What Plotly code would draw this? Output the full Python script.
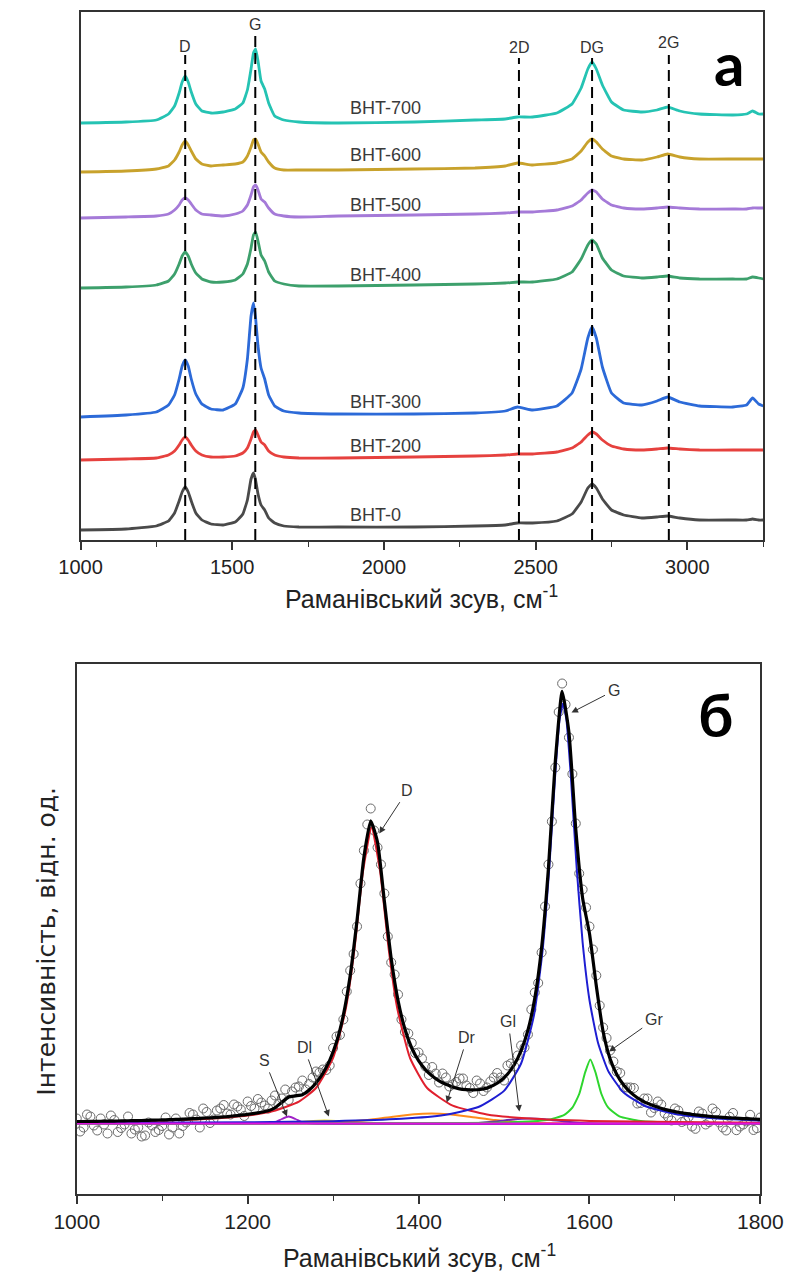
import plotly.graph_objects as go

# ---------------- Panel (a): Raman spectra of BHT samples ----------------
X_TOP = [1000, 1150, 1250, 1290, 1310, 1325, 1335, 1345, 1355, 1365, 1380, 1400, 1430, 1470, 1510,
         1535, 1550, 1562, 1570, 1577, 1585, 1595, 1607, 1620, 1640, 1670, 1720, 1850, 2100, 2300,
         2400, 2440, 2490, 2570, 2620, 2650, 2672, 2686, 2700, 2720, 2750, 2790, 2850, 2900, 2935,
         2975, 3040, 3150, 3195, 3215, 3235, 3250]

BHT_700 = [417, 418, 420, 426, 434, 447, 458, 464, 458, 448, 436, 429, 427, 428, 431,
           437, 450, 471, 487, 491, 479, 459, 451, 437, 424, 420, 418, 417, 418, 420,
           421, 423, 423, 427, 436, 452, 471, 478, 471, 455, 438, 430, 428, 430, 433,
           429, 426, 425, 426, 429, 426, 426]
BHT_600 = [368, 369, 371, 374, 380, 388, 395, 399, 395, 389, 381, 376, 374, 375, 376,
           378, 384, 393, 400, 401, 396, 388, 384, 378, 372, 370, 370, 370, 371, 372,
           374, 377, 375, 377, 381, 389, 398, 401, 398, 391, 384, 381, 380, 383, 386,
           383, 381, 381, 381, 381, 381, 381]
BHT_500 = [322, 323, 324, 326, 330, 335, 340, 342, 340, 336, 330, 326, 325, 324, 326,
           329, 335, 345, 353, 355, 350, 341, 338, 332, 326, 324, 323, 324, 325, 326,
           327, 328, 328, 330, 334, 340, 347, 350, 348, 341, 335, 332, 331, 332, 333,
           332, 331, 331, 331, 332, 332, 332]
BHT_400 = [252, 253, 255, 259, 266, 276, 284, 288, 284, 276, 267, 261, 258, 258, 260,
           266, 276, 292, 305, 308, 299, 285, 279, 268, 259, 256, 254, 254, 255, 256,
           257, 258, 258, 261, 268, 281, 295, 300, 296, 282, 270, 264, 262, 263, 264,
           262, 261, 261, 261, 263, 262, 261]
BHT_300 = [123, 125, 128, 135, 145, 161, 174, 180, 174, 161, 146, 136, 131, 130, 136,
           152, 181, 224, 237, 222, 194, 172, 161, 145, 134, 129, 127, 126, 126, 127,
           129, 133, 130, 134, 147, 171, 202, 213, 202, 173, 147, 137, 135, 139, 143,
           138, 134, 133, 135, 142, 136, 134]
BHT_200 = [80, 81, 82, 85, 89, 95, 100, 103, 100, 95, 89, 85, 83, 83, 84,
           87, 92, 101, 108, 110, 105, 98, 95, 89, 85, 83, 82, 82, 83, 84,
           85, 86, 86, 88, 92, 98, 105, 108, 106, 100, 94, 91, 90, 91, 92,
           91, 90, 90, 90, 90, 90, 90]
BHT_0 = [10, 11, 14, 19, 27, 39, 48, 53, 48, 39, 27, 20, 16, 15, 18,
         26, 40, 61, 67, 60, 46, 35, 30, 22, 17, 14, 13, 13, 13, 14,
         15, 17, 17, 19, 26, 38, 52, 56, 52, 41, 30, 25, 22, 23, 24,
         22, 20, 20, 20, 21, 20, 20]

SAMPLE_NAMES = ["BHT-700", "BHT-600", "BHT-500", "BHT-400", "BHT-300", "BHT-200", "BHT-0"]
SAMPLE_SPECTRA = [BHT_700, BHT_600, BHT_500, BHT_400, BHT_300, BHT_200, BHT_0]
SAMPLE_COLORS = ["#25C3B3", "#C8A22C", "#A57AD8", "#3DA06C", "#2C6AD8", "#E6413E", "#4A4A4A"]
SAMPLE_LABEL_X = 1882
SAMPLE_LABEL_Y = [432, 385, 335, 265, 138, 94, 25]

PEAK_NAMES = ["D", "G", "2D", "DG", "2G"]
PEAK_POS = [1345, 1576, 2445, 2686, 2939]
PEAK_LINE_TOP = [485, 505, 482, 482, 485]
PEAK_LABEL_Y = [493, 515, 492, 492, 497]

# ---------------- Panel (б): deconvolution of the first-order spectrum ----------------
FIT_X = list(range(1000, 1801, 8))
FIT_TOTAL = [2.0, 2.0, 2.1, 2.2, 2.3, 2.4, 2.5, 2.7, 2.8, 2.9,
             3.1, 3.3, 3.5, 3.7, 3.9, 4.2, 4.4, 4.8, 5.1, 5.5,
             5.9, 6.4, 6.9, 7.6, 8.3, 9.1, 10.1, 11.3, 12.8, 15.7,
             21.2, 26.5, 27.6, 28.8, 33.5, 40.6, 50.2, 63.1, 81.4, 108.3,
             147.9, 203.2, 266.1, 302.7, 281.2, 222.3, 164.9, 122.9, 94.5, 75.5,
             62.8, 53.8, 47.5, 42.6, 39.2, 36.6, 34.6, 33.8, 33.5, 34.0,
             35.4, 38.3, 42.8, 49.3, 58.7, 72.8, 93.3, 125.1, 175.7, 255.4,
             361.9, 432.1, 390.9, 294.0, 225.3, 190.0, 137.7, 91.7, 65.0, 48.9,
             38.4, 31.1, 25.8, 21.7, 18.7, 16.2, 14.1, 12.6, 11.2, 10.1,
             9.1, 8.3, 7.6, 6.9, 6.4, 5.9, 5.5, 5.1, 4.8, 4.5, 4.2]

DATA_X1 = list(range(1000, 1801, 8))
DATA_Y1 = [5, -4, 7, -7, -1, 8, -8.5, -1, -10, -4,
           -12, -2, -6.5, 6, -4, -10, 1, 9, -4, 11.5,
           4, 15, 10, 19, 14, 22, 15, 21, 15, 28,
           25, 23.5, 36, 43, 39.5, 52, 54, 58, 87, 104,
           153, 197, 273, 315, 276, 230, 161, 129, 91.5, 80.5,
           71, 57, 56.5, 41, 46, 39, 45, 38, 30.5, 40,
           36, 46, 46, 58, 57, 78, 89, 131, 171, 259,
           356, 440, 386, 300, 234, 197, 148, 96, 73, 52,
           36, 36, 20, 25, 11, 22, 10, 3, 13, 3,
           -3, 12, -1, 15, 1, -7, 10.5, -3, 2, -6.5, 6]
DATA_X2 = list(range(1004, 1800, 8))
DATA_Y2 = [-8, 9, -2, 5, -10, 3.5, -4.5, 7, -6, -13,
           1, -8.5, -2.5, -11, 5, -2.5, 10.5, 4, 15, 0.5,
           13, 18.5, 9, 17, 7.5, 17.5, 24.5, 18, 23, 19.5,
           34, 32, 37, 34, 46, 51, 53.5, 75.5, 88.5, 132,
           169.5, 240, 299, 293, 259, 187, 149, 104, 90, 70.5,
           65, 48.5, 50, 50, 37, 41.5, 45, 35.5, 43, 32.5,
           42, 50.5, 43, 60, 68, 76, 114, 140.5, 217, 302,
           411.5, 419, 349.5, 250, 216, 174, 118, 85.5, 62, 50.5,
           36, 35.5, 20.5, 25, 15.5, 19, 6.5, 15, 1.5, 6.5,
           -5.3, 10, 1.3, 11.5, -4, 6.7, -6.7, -1, 8.7, -4.7]

D_X = [1000, 1100, 1150, 1200, 1230, 1260, 1280, 1300, 1315, 1325, 1335, 1345, 1355, 1365, 1375,
       1390, 1410, 1440, 1480, 1530, 1600, 1700, 1800]
D_Y = [1.4, 2.8, 4.4, 7.9, 12.4, 21.9, 35.5, 65.5, 115.5, 174.7, 252.2, 296, 252.2, 174.7, 115.5,
       65.5, 35.5, 17.8, 9.1, 4.9, 2.6, 1.4, 0.8]
G_X = [1000, 1200, 1300, 1380, 1430, 1470, 1500, 1520, 1535, 1545, 1553, 1560, 1565, 1569, 1573,
       1578, 1585, 1592, 1600, 1610, 1622, 1640, 1665, 1700, 1750, 1800]
G_Y = [0.5, 1.2, 2.3, 4.7, 8.5, 16.5, 32.6, 60, 108, 172, 256, 350, 404, 420, 404,
       350, 256, 181, 123.5, 80.8, 52.4, 30.9, 17.5, 9.6, 5.1, 3.1]
GR_X = [1000, 1400, 1500, 1550, 1570, 1580, 1588, 1595, 1601, 1607, 1614, 1622, 1635, 1660, 1700, 1800]
GR_Y = [0, 0.2, 0.9, 3.4, 8.3, 15.8, 29.5, 51.2, 64, 51.2, 29.5, 15.8, 7.1, 2.5, 0.9, 0.2]
DR_X = [1000, 1250, 1300, 1340, 1370, 1395, 1415, 1435, 1460, 1490, 1520, 1560, 1600, 1800]
DR_Y = [0, 0.1, 0.8, 3.4, 6.8, 9.3, 10, 9.3, 6.8, 3.4, 1.2, 0.2, 0, 0]
GL_X = [1000, 1440, 1470, 1490, 1510, 1530, 1550, 1570, 1590, 1620, 1800]
GL_Y = [0, 0.1, 0.7, 2, 4, 5, 4, 2, 0.7, 0.1, 0]
S_X = [1000, 1220, 1232, 1240, 1248, 1256, 1264, 1276, 1800]
S_Y = [0, 0, 1.2, 4.5, 7, 4.5, 1.2, 0, 0]
DL_X = [1000, 1230, 1260, 1290, 1320, 1350, 1400, 1800]
DL_Y = [0, 0.4, 1.5, 3, 1.5, 0.4, 0, 0]
BASE_X = [1000, 1800]
BASE_Y = [0, 0]

# label text, label position (x, y), arrow head position (x, y)
BAND_LABELS = ["D", "G", "S", "Dl", "Dr", "Gl", "Gr"]
BAND_LABEL_X = [1387, 1629, 1220, 1266, 1457, 1505, 1676]
BAND_LABEL_Y = [333, 433, 63, 76, 86, 102, 104]
BAND_HEAD_X = [1354, 1579, 1246, 1295, 1433, 1518, 1623]
BAND_HEAD_Y = [290, 411, 7, 7, 21, 12, 72]

W, H = 806, 1273
FONT = "Liberation Sans, Arial, sans-serif"


def px_x(p):
    return p / W


def px_y(p):
    return 1 - p / H


fig = go.Figure()

# ---- panel a traces
for name, ys, col in zip(SAMPLE_NAMES, SAMPLE_SPECTRA, SAMPLE_COLORS):
    fig.add_trace(go.Scatter(x=X_TOP, y=ys, mode="lines", name=name,
                             line=dict(color=col, width=2.8, shape="spline", smoothing=0.35),
                             xaxis="x", yaxis="y", showlegend=False, hoverinfo="skip"))
for pos, top in zip(PEAK_POS, PEAK_LINE_TOP):
    fig.add_trace(go.Scatter(x=[pos, pos], y=[0, top], mode="lines",
                             line=dict(color="black", width=2, dash="11px,6px"),
                             xaxis="x", yaxis="y", showlegend=False, hoverinfo="skip"))

# ---- panel b traces
fig.add_trace(go.Scatter(x=DATA_X1, y=DATA_Y1, mode="markers", xaxis="x2", yaxis="y2",
                         marker=dict(symbol="circle-open", size=9, color="#6a6a6a", line=dict(width=1)),
                         showlegend=False, hoverinfo="skip"))
fig.add_trace(go.Scatter(x=DATA_X2, y=DATA_Y2, mode="markers", xaxis="x2", yaxis="y2",
                         marker=dict(symbol="circle-open", size=9, color="#6a6a6a", line=dict(width=1)),
                         showlegend=False, hoverinfo="skip"))

components = [
    (DL_X, DL_Y, "#E8D820", 2),
    (DR_X, DR_Y, "#FF8C1A", 2),
    (S_X, S_Y, "#A020C8", 1.8),
    (GL_X, GL_Y, "#6A2AB0", 1.8),
    (GR_X, GR_Y, "#2ED62E", 2),
    (D_X, D_Y, "#E0202E", 2),
    (G_X, G_Y, "#1E1ED2", 2),
]
for xs, ys, col, w in components:
    fig.add_trace(go.Scatter(x=xs, y=ys, mode="lines", xaxis="x2", yaxis="y2",
                             line=dict(color=col, width=w, shape="spline", smoothing=0.5),
                             showlegend=False, hoverinfo="skip"))
fig.add_trace(go.Scatter(x=BASE_X, y=BASE_Y, mode="lines", xaxis="x2", yaxis="y2",
                         line=dict(color="#E010E0", width=2.2), showlegend=False, hoverinfo="skip"))
fig.add_trace(go.Scatter(x=FIT_X, y=FIT_TOTAL, mode="lines", xaxis="x2", yaxis="y2",
                         line=dict(color="black", width=3.2, shape="spline", smoothing=0.5),
                         showlegend=False, hoverinfo="skip"))

annotations = []
for name, y in zip(SAMPLE_NAMES, SAMPLE_LABEL_Y):
    annotations.append(dict(x=SAMPLE_LABEL_X, y=y, xref="x", yref="y", text=name, showarrow=False,
                            xanchor="left", yanchor="middle",
                            font=dict(family=FONT, size=18, color="#3a3a3a")))
for name, pos, ly in zip(PEAK_NAMES, PEAK_POS, PEAK_LABEL_Y):
    annotations.append(dict(x=pos, y=ly, xref="x", yref="y", text=name, showarrow=False,
                            xanchor="center", yanchor="middle",
                            font=dict(family=FONT, size=16, color="#333")))
for name, lx, ly, hx, hy in zip(BAND_LABELS, BAND_LABEL_X, BAND_LABEL_Y, BAND_HEAD_X, BAND_HEAD_Y):
    annotations.append(dict(x=hx, y=hy, ax=lx, ay=ly, xref="x2", yref="y2", axref="x2", ayref="y2",
                            text=name, showarrow=True, arrowhead=2, arrowsize=1.3, arrowwidth=1,
                            arrowcolor="#333", standoff=0, startstandoff=2,
                            font=dict(family=FONT, size=16, color="#333")))

annotations += [
    dict(x=px_x(423), y=px_y(597), xref="paper", yref="paper", showarrow=False,
         text="Раманівський зсув, см<sup>-1</sup>", xanchor="center", yanchor="middle",
         font=dict(family=FONT, size=25, color="#222")),
    dict(x=px_x(420), y=px_y(1256), xref="paper", yref="paper", showarrow=False,
         text="Раманівський зсув, см<sup>-1</sup>", xanchor="center", yanchor="middle",
         font=dict(family=FONT, size=25, color="#222")),
    dict(x=px_x(24), y=px_y(941), xref="paper", yref="paper", showarrow=False,
         text="Інтенсивність, відн. од.", textangle=-90, xanchor="center", yanchor="middle",
         font=dict(family="DejaVu Sans", size=25, color="#222")),
    dict(x=px_x(749), y=px_y(63), xref="paper", yref="paper", showarrow=False,
         text="<b>a</b>", xanchor="center", yanchor="middle",
         font=dict(family="Lato, Noto Sans", size=60, color="black")),
    dict(x=px_x(734), y=px_y(714), xref="paper", yref="paper", showarrow=False,
         text="<b>б</b>", xanchor="center", yanchor="middle",
         font=dict(family="Lato, Noto Sans", size=60, color="black")),
]

axis_common = dict(showgrid=False, zeroline=False, showline=True, linecolor="#333", linewidth=1.6,
                   mirror=True)

fig.update_layout(
    width=W, height=H, margin=dict(l=0, r=0, t=0, b=0),
    paper_bgcolor="white", plot_bgcolor="white", showlegend=False,
    xaxis=dict(domain=[px_x(61), px_x(785)], range=[1000, 3250], anchor="y",
               tickmode="linear", tick0=1000, dtick=500, ticks="outside", ticklen=8, tickwidth=1.5,
               tickcolor="#333", tickfont=dict(family=FONT, size=20, color="#222"),
               minor=dict(ticks="outside", ticklen=5, tickwidth=1.2, tickcolor="#333", dtick=250, tick0=1000),
               **axis_common),
    yaxis=dict(domain=[px_y(540), px_y(12)], range=[0, 528], anchor="x",
               showticklabels=False, ticks="", **axis_common),
    xaxis2=dict(domain=[px_x(57), px_x(782)], range=[1000, 1800], anchor="y2",
                tickmode="linear", tick0=1000, dtick=200, ticks="outside", ticklen=8, tickwidth=1.5,
                tickcolor="#333", tickfont=dict(family=FONT, size=21, color="#222"),
                minor=dict(ticks="outside", ticklen=5, tickwidth=1.2, tickcolor="#333", dtick=100, tick0=1000),
                **axis_common),
    yaxis2=dict(domain=[px_y(1194), px_y(664)], range=[-70.5, 459.5], anchor="x2",
                showticklabels=False, ticks="", **axis_common),
    annotations=annotations,
)

fig.write_html("out.html")
